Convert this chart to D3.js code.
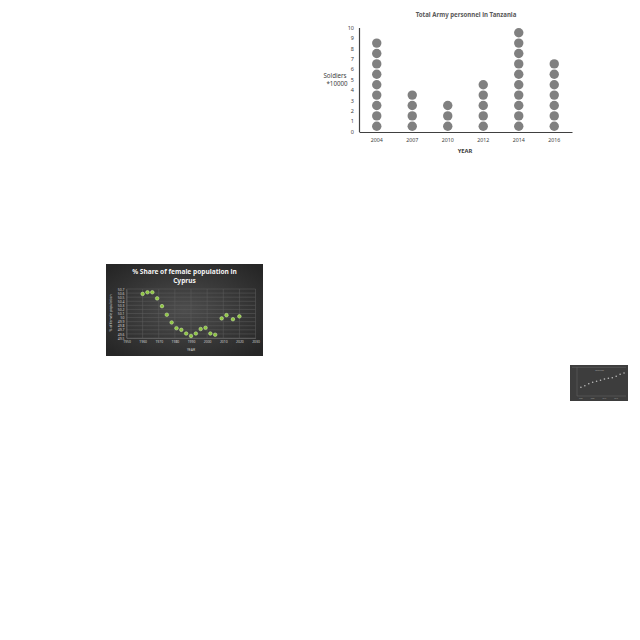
<!DOCTYPE html>
<html><head><meta charset="utf-8">
<script src="https://cdn.jsdelivr.net/npm/d3@7"></script>
<style>html,body{margin:0;padding:0;background:#fff}svg{display:block}</style>
</head><body>
<svg id="c" width="640" height="640"></svg>
<script>
// ---- Tanzania army chart data ----
const armyYears = ["2004","2007","2010","2012","2014","2016"];
const armySoldiers = [9, 4, 3, 5, 10, 7]; // x 10000
const armyTicks = [0,1,2,3,4,5,6,7,8,9,10];

// ---- Cyprus female share data ----
const cyprusYears = [1960,1963,1966,1969,1972,1975,1978,1981,1984,1987,1990,1993,1996,1999,2002,2005,2009,2012,2016,2020];
const cyprusShare = [50.58,50.62,50.62,50.47,50.28,50.07,49.88,49.74,49.70,49.61,49.55,49.61,49.72,49.75,49.61,49.58,49.98,50.06,49.96,50.03];
const cyprusXTicks = [1950,1960,1970,1980,1990,2000,2010,2020,2030];
const cyprusYTicks = [50.7,50.6,50.5,50.4,50.3,50.2,50.1,50,49.9,49.8,49.7,49.6,49.5];

// ---- small thumbnail chart data ----
const miniYears = [2006,2007,2008,2009,2010,2011,2012,2013,2014,2015,2016,2017];
const miniValues = [3.0,3.55,4.24,4.72,5.07,5.41,5.86,6.1,6.31,6.79,7.48,7.93];

const svg = d3.select("#c");
const font = "'Noto Sans', 'Open Sans', sans-serif";

// ================= Tanzania =================
{
  const g = svg.append("g");
  const x = d3.scaleBand().domain(armyYears).range([359, 572]);
  const y = d3.scaleLinear().domain([0, 10]).range([131.5, 27.5]);
  g.append("text").attr("x", 466).attr("y", 17).attr("text-anchor","middle")
    .attr("font-family", font).attr("font-size", 6.1).attr("font-weight","bold").attr("fill","#595959")
    .text("Total Army personnel in Tanzania");
  armyYears.forEach((yr, i) => {
    const units = d3.range(armySoldiers[i]);
    g.selectAll(null).data(units).enter().append("circle")
      .attr("cx", x(yr) + x.bandwidth()/2)
      .attr("cy", d => y(d + 0.5))
      .attr("r", 4.7)
      .attr("fill", "#808080");
  });
  const ya = g.append("g").attr("transform","translate(359,0)")
    .call(d3.axisLeft(y).tickValues(armyTicks).tickSize(0).tickPadding(5).tickFormat(d3.format("d")));
  ya.select(".domain").attr("stroke","#404040").attr("stroke-width",1.2);
  ya.selectAll("text").attr("font-family", font).attr("font-size", 5.5).attr("fill","#404040");
  const xa = g.append("g").attr("transform","translate(0,132)")
    .call(d3.axisBottom(x).tickSize(0).tickPadding(6));
  xa.select(".domain").attr("stroke","#404040").attr("stroke-width",1.2);
  xa.selectAll("text").attr("font-family", font).attr("font-size", 5.3).attr("fill","#404040");
  g.append("text").attr("x", 465).attr("y", 152.5).attr("text-anchor","middle")
    .attr("font-family", font).attr("font-size", 5.8).attr("font-weight","bold").attr("fill","#404040").text("YEAR");
  g.append("text").attr("x", 335).attr("y", 78).attr("text-anchor","middle")
    .attr("font-family", font).attr("font-size", 6.2).attr("fill","#404040").text("Soldiers");
  g.append("text").attr("x", 337).attr("y", 86).attr("text-anchor","middle")
    .attr("font-family", font).attr("font-size", 6.2).attr("fill","#404040").text("*10000");
}

// ================= Cyprus =================
{
  const defs = svg.append("defs");
  const rg = defs.append("radialGradient").attr("id","cyBg").attr("cx","50%").attr("cy","50%").attr("r","65%");
  rg.append("stop").attr("offset","0%").attr("stop-color","#4d4d4d");
  rg.append("stop").attr("offset","100%").attr("stop-color","#262626");
  const g = svg.append("g");
  g.append("rect").attr("x",106).attr("y",264).attr("width",157).attr("height",92).attr("fill","url(#cyBg)");
  g.append("text").attr("x",184.5).attr("y",274).attr("text-anchor","middle")
    .attr("font-family", font).attr("font-size",6.6).attr("font-weight","bold").attr("fill","#f2f2f2")
    .text("% Share of female population in");
  g.append("text").attr("x",184.5).attr("y",282.5).attr("text-anchor","middle")
    .attr("font-family", font).attr("font-size",6.6).attr("font-weight","bold").attr("fill","#f2f2f2")
    .text("Cyprus");
  const x = d3.scaleLinear().domain([1950, 2030]).range([126.5, 255.5]);
  const y = d3.scaleLinear().domain([49.5, 50.7]).range([338, 289]);
  g.selectAll(null).data(cyprusYTicks).enter().append("line")
    .attr("x1", x(1950)).attr("x2", x(2030)).attr("y1", d=>y(d)).attr("y2", d=>y(d))
    .attr("stroke","#5e5e5e").attr("stroke-width",0.5);
  g.selectAll(null).data(cyprusXTicks).enter().append("line")
    .attr("x1", d=>x(d)).attr("x2", d=>x(d)).attr("y1", y(50.7)).attr("y2", y(49.5))
    .attr("stroke","#5e5e5e").attr("stroke-width",0.5);
  const ya = g.append("g").attr("transform",`translate(${x(1950)},0)`)
    .call(d3.axisLeft(y).tickValues(cyprusYTicks).tickSize(0).tickPadding(2).tickFormat(d3.format("~g")));
  ya.select(".domain").attr("stroke","#7a7a7a").attr("stroke-width",0.5);
  ya.selectAll("text").attr("font-family", font).attr("font-size",3.4).attr("fill","#d0d0d0");
  const xa = g.append("g").attr("transform",`translate(0,${y(49.5)})`)
    .call(d3.axisBottom(x).tickValues(cyprusXTicks).tickSize(0).tickPadding(2.5).tickFormat(d3.format("d")));
  xa.select(".domain").attr("stroke","#7a7a7a").attr("stroke-width",0.5);
  xa.selectAll("text").attr("font-family", font).attr("font-size",3.4).attr("fill","#d0d0d0");
  g.append("text").attr("transform","translate(111.5,313) rotate(-90)").attr("text-anchor","middle")
    .attr("font-family", font).attr("font-size",3.4).attr("fill","#d0d0d0").text("% of female population");
  g.append("text").attr("x",191).attr("y",350.5).attr("text-anchor","middle")
    .attr("font-family", font).attr("font-size",3.4).attr("fill","#d0d0d0").text("YEAR");
  g.selectAll(null).data(cyprusYears).enter().append("circle")
    .attr("cx", d=>x(d)).attr("cy", (d,i)=>y(cyprusShare[i])).attr("r",1.8)
    .attr("fill","#8dc63f").attr("stroke","#d4edb0").attr("stroke-width",0.5);
}

// ================= Mini thumbnail =================
{
  const g = svg.append("g");
  g.append("rect").attr("x",570).attr("y",365).attr("width",58).attr("height",36).attr("fill","#3d3d3d");
  const x = d3.scaleLinear().domain([2005, 2017.5]).range([577, 626]);
  const y = d3.scaleLinear().domain([0, 10]).range([396, 367]);
  g.append("line").attr("x1",572).attr("x2",626).attr("y1",367.3).attr("y2",367.3).attr("stroke","#6a6a6a").attr("stroke-width",0.5);
  g.append("line").attr("x1",577).attr("x2",577).attr("y1",367.3).attr("y2",396).attr("stroke","#6a6a6a").attr("stroke-width",0.5);
  g.append("line").attr("x1",577).attr("x2",626).attr("y1",396).attr("y2",396).attr("stroke","#6a6a6a").attr("stroke-width",0.5);
  g.append("text").attr("x",599.5).attr("y",370.6).attr("text-anchor","middle")
    .attr("font-family", font).attr("font-size",1.8).attr("fill","#b0b0b0").text("Chart Title");
  g.selectAll(null).data(miniYears).enter().append("circle")
    .attr("cx", d=>x(d)).attr("cy",(d,i)=>y(miniValues[i])).attr("r",0.8).attr("fill","#bdbdbd");
  g.selectAll(null).data([2006,2009,2012,2015]).enter().append("text")
    .attr("x", d=>x(d)).attr("y",399).attr("text-anchor","middle")
    .attr("font-family", font).attr("font-size",1.6).attr("fill","#9a9a9a").text(d=>d);
}
</script>
</body></html>
